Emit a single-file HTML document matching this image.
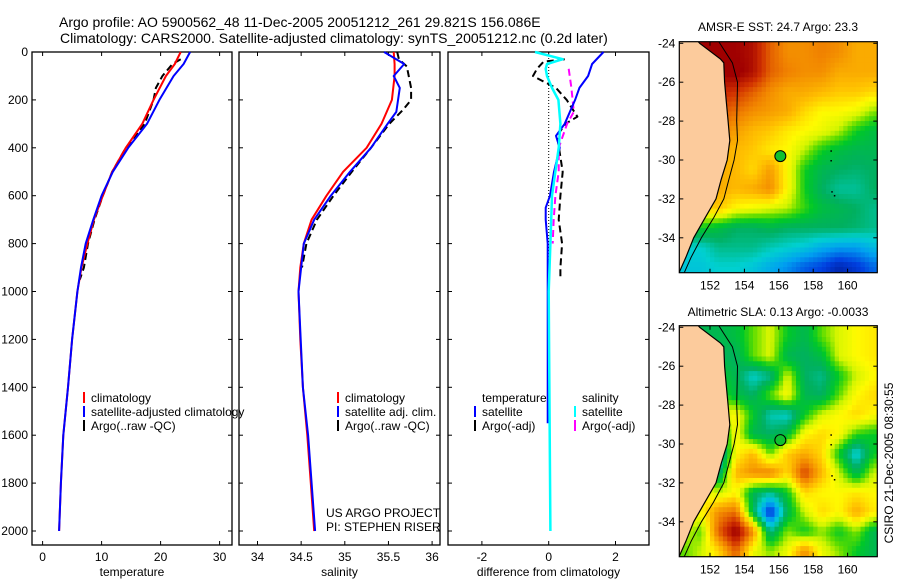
<!DOCTYPE html>
<html><head><meta charset="utf-8">
<style>
html,body{margin:0;padding:0;background:#fff;}
svg{display:block;font-family:"Liberation Sans",Arial,sans-serif;}
</style></head>
<body>
<svg id="fig" width="900" height="580" viewBox="0 0 900 580" xmlns="http://www.w3.org/2000/svg">
<rect width="900" height="580" fill="#fff"/>
<text x="59" y="27" font-size="14">Argo profile: AO 5900562_48 11-Dec-2005 20051212_261 29.821S 156.086E</text>
<text x="60" y="43" font-size="14">Climatology: CARS2000. Satellite-adjusted climatology: synTS_20051212.nc (0.2d later)</text>
<text x="778" y="31" font-size="12" text-anchor="middle">AMSR-E SST: 24.7 Argo: 23.3</text>
<text x="778" y="316" font-size="12" text-anchor="middle">Altimetric SLA: 0.13 Argo: -0.0033</text>
<text transform="translate(893,463) rotate(-90)" font-size="12" text-anchor="middle">CSIRO 21-Dec-2005 08:30:55</text>
<text x="326" y="517" font-size="12">US ARGO PROJECT</text>
<text x="326" y="531" font-size="12">PI: STEPHEN RISER</text>
<g id="layer"></g>
</svg>
<script>
// ---- profile data ----
const tempClimDepth = [0,50,100,200,300,400,500,600,700,800,900,1000,1200,1400,1600,1800,2000];
const tempClim = [23.4,22.4,20.9,18.8,16.9,14.1,11.8,10.2,8.7,7.6,6.6,5.9,5.0,4.3,3.5,3.1,2.8];
const tempSat = [25.0,23.9,22.2,19.8,17.7,14.5,11.9,10.0,8.6,7.3,6.5,5.9,5.0,4.3,3.5,3.1,2.8];
const tempArgoDepth = [30,50,100,150,200,300,400,500,600,700,800,900,950];
const tempArgo = [23.4,22.0,20.3,19.2,18.8,17.3,14.1,11.8,10.2,8.8,7.7,7.0,6.3];
const salClim = [35.56,35.57,35.57,35.54,35.42,35.25,34.98,34.79,34.62,34.53,34.49,34.47,34.49,34.52,34.57,34.61,34.65];
const salSatDepth = [0,50,100,150,250,300,400,500,600,700,800,1000,1400,1600,1800,2000];
const salSat = [35.45,35.68,35.56,35.63,35.59,35.49,35.30,35.06,34.84,34.65,34.53,34.47,34.52,34.58,34.62,34.66];
const salArgoDepth = [0,30,60,150,200,240,300,400,500,600,700,800,900];
const salArgo = [35.6,35.62,35.71,35.76,35.76,35.67,35.51,35.30,35.08,34.87,34.68,34.56,34.51];
const dTsatDepth = [0,50,100,150,200,300,350,400,500,600,650,700,800,900,1000,1550];
const dTsat = [1.64,1.30,1.18,0.92,0.79,0.48,0.22,0.33,0.16,0.04,-0.09,-0.09,-0.03,-0.03,-0.03,-0.03];
const dTargoDepth = [30,40,70,100,120,150,200,270,300,350,500,600,700,800,900,950];
const dTargo = [0.48,-0.15,-0.35,-0.47,-0.2,0.22,0.54,0.86,0.5,0.25,0.42,0.35,0.3,0.4,0.35,0.35];
const dSsatDepth = [0,30,50,70,100,150,200,300,400,600,800,1000,2000];
const dSsat = [-0.41,0.42,-0.05,-0.09,-0.05,0.1,0.29,0.35,0.3,0.1,0.05,0.0,0.05];
const dSargoDepth = [70,150,250,300,400,500,600,700,800];
const dSargo = [0.6,0.68,0.75,0.55,0.3,0.3,0.2,0.15,0.12];
const depthTicks = [0,200,400,600,800,1000,1200,1400,1600,1800,2000];
const tempTicks = [0,10,20,30];
const salTicks = [34,34.5,35,35.5,36];
const salTickLabels = ["34","34.5","35","35.5","36"];
const diffTicks = [-2,0,2];
// ---- map data (values 0..1 on colour scale), rows lat -24.5..-35.5 centres, cols lon 150.5..161.5 ----
const sstGrid = [
[.95,.95,.95,.95,.92,.8,.74,.74,.76,.74,.7,.7],
[.9,.9,.95,.97,.92,.8,.76,.74,.74,.7,.7,.7],
[.85,.85,.88,.86,.8,.74,.7,.7,.68,.66,.66,.64],
[.8,.8,.82,.78,.74,.72,.7,.64,.6,.6,.58,.52],
[.75,.75,.76,.72,.68,.66,.62,.6,.58,.54,.46,.42],
[.72,.72,.7,.68,.66,.62,.6,.54,.46,.42,.4,.4],
[.72,.72,.7,.68,.64,.72,.6,.46,.4,.38,.37,.38],
[.7,.7,.7,.68,.7,.74,.6,.46,.38,.34,.34,.38],
[.64,.64,.66,.6,.58,.56,.54,.48,.42,.4,.38,.35],
[.45,.45,.42,.38,.38,.4,.38,.38,.38,.38,.37,.35],
[.3,.3,.35,.35,.35,.32,.3,.28,.24,.22,.22,.26],
[.28,.28,.3,.3,.28,.24,.2,.15,.12,.06,.1,.16]];
const slaGrid = [
[.4,.4,.4,.42,.5,.56,.45,.4,.5,.56,.6,.62],
[.4,.4,.4,.38,.5,.56,.4,.38,.42,.56,.6,.62],
[.4,.4,.45,.4,.3,.35,.56,.38,.35,.45,.55,.6],
[.4,.4,.5,.42,.38,.5,.6,.4,.38,.5,.6,.64],
[.5,.5,.56,.6,.45,.32,.3,.45,.56,.6,.64,.6],
[.56,.56,.35,.6,.4,.38,.42,.6,.64,.6,.48,.45],
[.5,.5,.25,.6,.68,.5,.66,.7,.64,.45,.28,.45],
[.56,.56,.35,.68,.74,.76,.64,.84,.68,.55,.4,.55],
[.6,.6,.55,.6,.4,.35,.45,.64,.6,.6,.62,.6],
[.64,.6,.74,.78,.4,.08,.4,.55,.64,.6,.7,.62],
[.55,.5,.8,.97,.74,.35,.52,.45,.52,.45,.52,.4],
[.5,.55,.64,.8,.58,.52,.58,.74,.58,.52,.45,.4]];
const coastLat = [-23.9,-24,-24.8,-25,-26,-27,-28,-29,-30,-31,-32,-33,-34,-35,-35.8];
const coastLon = [151.3,151.4,152.6,152.8,152.85,152.95,153.05,153.15,153.0,152.65,152.35,151.7,151.05,150.6,150.2];
const isoLat = [-23.9,-25,-26,-28,-29,-30,-31,-32,-33,-34,-35,-35.8];
const isoLon = [152.5,153.3,153.6,153.55,153.6,153.4,153.1,152.8,152.2,151.5,150.9,150.5];
const mapLatTicks = [-24,-26,-28,-30,-32,-34];
const mapLonTicks = [152,154,156,158,160];
const argoLon = 156.09, argoLat = -29.8;

const NS = "http://www.w3.org/2000/svg";
const layer = document.getElementById('layer');
function mk(tag, attrs, parent){
  const e = document.createElementNS(NS, tag);
  for (const k in attrs) e.setAttribute(k, attrs[k]);
  (parent||layer).appendChild(e);
  return e;
}
const yD = d => 52 + d*0.2395;
const panels = [
  {x0:32,x1:232,sx:v=>42.6+v*5.9,ticks:tempTicks,labels:tempTicks.map(String),xl:"temperature",name:"temperature-panel"},
  {x0:239,x1:440,sx:v=>257.5+(v-34)*87.3,ticks:salTicks,labels:salTickLabels,xl:"salinity",name:"salinity-panel"},
  {x0:448,x1:649,sx:v=>548.7+v*33.4,ticks:diffTicks,labels:diffTicks.map(String),xl:"difference from climatology",name:"difference-panel"}
];
const Y0=52, Y1=545;
panels.forEach((p,pi)=>{
  const g = mk('g',{});
  
  
  const fr = mk('rect',{x:p.x0,y:Y0,width:p.x1-p.x0,height:Y1-Y0,fill:'none',stroke:'#000','stroke-width':1.3},g);
  
  
  depthTicks.forEach(d=>{
    const y=yD(d);
    mk('line',{x1:p.x0,x2:p.x0+4,y1:y,y2:y,stroke:'#000'},g);
    mk('line',{x1:p.x1-4,x2:p.x1,y1:y,y2:y,stroke:'#000'},g);
    if(pi===0){
      const t=mk('text',{x:p.x0-4,y:y+4,'font-size':12,'text-anchor':'end'},g);
      t.textContent=String(d);
      
      
    }
  });
  p.ticks.forEach((v,i)=>{
    const x=p.sx(v);
    mk('line',{x1:x,x2:x,y1:Y1,y2:Y1-4,stroke:'#000'},g);
    mk('line',{x1:x,x2:x,y1:Y0,y2:Y0+4,stroke:'#000'},g);
    const t=mk('text',{x:x,y:561,'font-size':12,'text-anchor':'middle'},g);
    t.textContent=p.labels[i];
    
    
  });
  const xl=mk('text',{x:(p.x0+p.x1)/2,y:576,'font-size':12,'text-anchor':'middle'},g);
  xl.textContent=p.xl;
  
  
});
function series(depths, vals, sx, color, dashed, name, w){
  const pts = vals.map((v,i)=>sx(v).toFixed(1)+','+yD(depths[i]).toFixed(1)).join(' ');
  const a={points:pts,fill:'none',stroke:color,'stroke-width':w||2,'stroke-linejoin':'round'};
  if(dashed) a['stroke-dasharray']='7,4';
  const e=mk('polyline',a);
  
  
}
const P=panels;
const zl=mk('line',{x1:P[2].sx(0),x2:P[2].sx(0),y1:Y0,y2:yD(1000),stroke:'#000','stroke-dasharray':'1,2','stroke-width':1});


series(tempArgoDepth,tempArgo,P[0].sx,'#000',true,'temp-argo-line');
series(tempClimDepth,tempClim,P[0].sx,'#f00',false,'temp-climatology-line');
series(tempClimDepth,tempSat,P[0].sx,'#00f',false,'temp-satellite-line');
series(salArgoDepth,salArgo,P[1].sx,'#000',true,'salinity-argo-line');
series(tempClimDepth,salClim,P[1].sx,'#f00',false,'salinity-climatology-line');
series(salSatDepth,salSat,P[1].sx,'#00f',false,'salinity-satellite-line');
series(dTargoDepth,dTargo,P[2].sx,'#000',true,'temp-diff-argo-line');
series(dSargoDepth,dSargo,P[2].sx,'#f0f',true,'salinity-diff-argo-line');
series(dTsatDepth,dTsat,P[2].sx,'#00f',false,'temp-diff-satellite-line');
series(dSsatDepth,dSsat,P[2].sx,'#0ff',false,'salinity-diff-satellite-line',2.5);
function legend(x,y,color,label){
  const g=mk('g',{});
  
  
  if(color) mk('line',{x1:x,x2:x,y1:y-10,y2:y+1,stroke:color,'stroke-width':2},g);
  const t=mk('text',{x:x+7,y:y,'font-size':12},g);
  t.textContent=label;
}
legend(84,402,'#f00','climatology');
legend(84,416,'#00f','satellite-adjusted climatology');
legend(84,430,'#000','Argo(..raw -QC)');
legend(338,402,'#f00','climatology');
legend(338,416,'#00f','satellite adj. clim.');
legend(338,430,'#000','Argo(..raw -QC)');
legend(475,402,null,'temperature');
legend(475,416,'#00f','satellite');
legend(475,430,'#000','Argo(-adj)');
legend(575,402,null,'salinity');
legend(575,416,'#0ff','satellite');
legend(575,430,'#f0f','Argo(-adj)');
// ---- maps ----
const stops=[[0,[0,16,128]],[.12,[0,64,224]],[.22,[0,160,240]],[.3,[0,208,208]],[.38,[0,176,96]],[.45,[0,200,40]],[.5,[90,220,0]],[.55,[210,245,0]],[.6,[255,250,0]],[.67,[255,192,0]],[.76,[240,128,0]],[.86,[208,48,0]],[.95,[160,0,0]],[1,[150,0,0]]];
function cmap(v){
  for(let i=1;i<stops.length;i++){
    if(v<=stops[i][0]){
      const a=stops[i-1],b=stops[i],t=(v-a[0])/(b[0]-a[0]);
      const c=a[1].map((q,k)=>Math.round(q+(b[1][k]-q)*t));
      return 'rgb('+c.join(',')+')';
    }
  }
  return 'rgb(150,0,0)';
}
function sample(grid, lon, lat){
  let fc = lon-150.5, fr = (-24.5)-lat;
  fc=Math.max(0,Math.min(11,fc)); fr=Math.max(0,Math.min(11,fr));
  const c0=Math.floor(fc), r0=Math.floor(fr), c1=Math.min(11,c0+1), r1=Math.min(11,r0+1);
  const tc=fc-c0, tr=fr-r0;
  const a=grid[r0][c0]*(1-tc)+grid[r0][c1]*tc;
  const b=grid[r1][c0]*(1-tc)+grid[r1][c1]*tc;
  return a*(1-tr)+b*tr;
}
const MX0=679.3, MX1=877.3;
const mx = lon => 710 + (lon-152)*17.2;
const SUB=0.25;
function drawMap(grid, yoff, name){
  const my = lat => 43.3 + yoff + (-24-lat)*19.45;
  const top=41.7+yoff, bot=556.7-284+yoff;
  const g=mk('g',{});
  
  
  const cid='clip'+yoff;
  const cp=mk('clipPath',{id:cid},g);
  mk('rect',{x:MX0,y:top,width:MX1-MX0,height:bot-top},cp);
  const cg=mk('g',{'clip-path':'url(#'+cid+')'},g);
  for(let lat=-23.75; lat>-36; lat-=SUB){
    for(let lon=150; lon<162; lon+=SUB){
      const v=sample(grid, lon+SUB/2, lat-SUB/2);
      const y1=my(lat), y2=my(lat-SUB);
      const cell=mk('rect',{x:mx(lon).toFixed(1),y:y1.toFixed(1),width:(17.2*SUB+0.5).toFixed(1),height:(y2-y1+0.5).toFixed(1),fill:cmap(v)},cg);
      
      
    }
  }
  let land = coastLon.map((l,i)=>mx(l).toFixed(1)+','+my(coastLat[i]).toFixed(1));
  land.push(MX0-2+','+(bot+2)); land.push(MX0-2+','+(top-2));
  const lp=mk('polygon',{points:land.join(' '),fill:'#fccb9c',stroke:'#000','stroke-width':1.2},cg);
  
  
  const iso=mk('polyline',{points:isoLon.map((l,i)=>mx(l).toFixed(1)+','+my(isoLat[i]).toFixed(1)).join(' '),fill:'none',stroke:'#000','stroke-width':1},cg);
  
  
  [[159,-29.5],[159,-30],[159.05,-31.6],[159.2,-31.8]].forEach(p=>mk('rect',{x:mx(p[0]),y:my(p[1]),width:1.5,height:1.5,fill:'#000'},cg));
  const dot=mk('circle',{cx:mx(argoLon),cy:my(argoLat),r:5.5,fill:'#10c030',stroke:'#000','stroke-width':1},cg);
  
  
  const fr=mk('rect',{x:MX0,y:top,width:MX1-MX0,height:bot-top,fill:'none',stroke:'#000','stroke-width':1.2},g);
  
  
  mapLatTicks.forEach(l=>{
    const y=my(l);
    mk('line',{x1:MX0,x2:MX0+4,y1:y,y2:y,stroke:'#000'},g);
    mk('line',{x1:MX1-4,x2:MX1,y1:y,y2:y,stroke:'#000'},g);
    const t=mk('text',{x:MX0-4,y:y+4,'font-size':12,'text-anchor':'end'},g);
    t.textContent=String(l);
    
    
  });
  mapLonTicks.forEach(l=>{
    const x=mx(l);
    mk('line',{x1:x,x2:x,y1:bot,y2:bot-4,stroke:'#000'},g);
    mk('line',{x1:x,x2:x,y1:top,y2:top+4,stroke:'#000'},g);
    const t=mk('text',{x:x,y:bot+17,'font-size':12,'text-anchor':'middle'},g);
    t.textContent=String(l);
    
    
  });
}
drawMap(sstGrid,0,'sst-map');
drawMap(slaGrid,284,'sla-map');
</script>
</body></html>
